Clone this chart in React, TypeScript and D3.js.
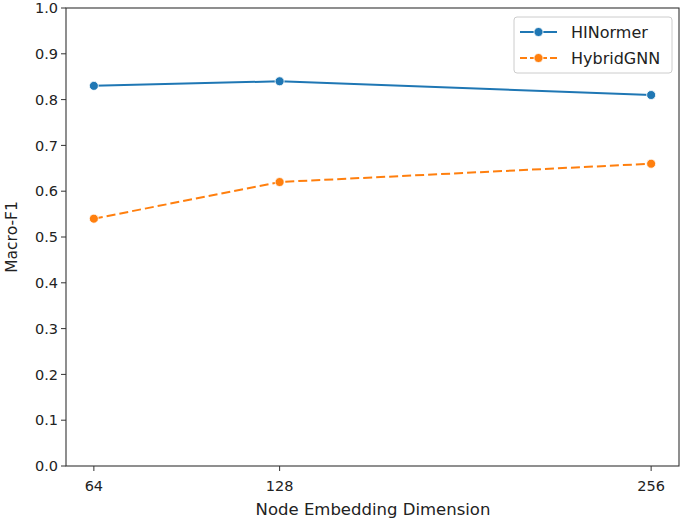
import * as d3 from "d3";

const dims = [64, 128, 256];
const hinormer = [0.83, 0.84, 0.81];
const hybridgnn = [0.54, 0.62, 0.66];
const yTicks = [0, 0.1, 0.2, 0.3, 0.4, 0.5, 0.6, 0.7, 0.8, 0.9, 1.0];

const series = [
  { name: "HINormer", values: hinormer, color: "#1f77b4", dash: "" },
  { name: "HybridGNN", values: hybridgnn, color: "#ff7f0e", dash: "9,4" },
];

const W = 685;
const H = 522;
const m = { left: 66, right: 679, top: 8, bottom: 466 };
const font = "DejaVu Sans, sans-serif";

export default function App() {
  const pad = (256 - 64) * 0.05;
  const x = d3.scaleLinear().domain([64 - pad, 256 + pad]).range([m.left, m.right]);
  const y = d3.scaleLinear().domain([0, 1]).range([m.bottom, m.top]);

  const line = d3
    .line<number>()
    .x((_, i) => x(dims[i]))
    .y((d) => y(d));

  return (
    <svg
      width={W}
      height={H}
      style={{ position: "absolute", left: 0, top: 0 }}
      fontFamily={font}
    >
      <rect width={W} height={H} fill="#fff" />
      {/* y ticks */}
      {yTicks.map((t) => (
        <g key={t} transform={`translate(0,${y(t)})`}>
          <line x1={m.left - 5} x2={m.left} stroke="#333" strokeWidth={1} />
          <text x={m.left - 8} dy="0.36em" textAnchor="end" fontSize={14.5} fill="#222">
            {t.toFixed(1)}
          </text>
        </g>
      ))}
      {/* x ticks */}
      {dims.map((d) => (
        <g key={d} transform={`translate(${x(d)},0)`}>
          <line y1={m.bottom} y2={m.bottom + 5} stroke="#333" strokeWidth={1} />
          <text y={m.bottom + 25} textAnchor="middle" fontSize={14.5} fill="#222">
            {d}
          </text>
        </g>
      ))}
      <text x={373} y={515} textAnchor="middle" fontSize={16.5} fill="#222">
        Node Embedding Dimension
      </text>
      <text
        transform={`translate(17,${(m.top + m.bottom) / 2}) rotate(-90)`}
        textAnchor="middle"
        fontSize={15.5}
        fill="#222"
      >
        Macro-F1
      </text>
      {/* lines */}
      {series.map((s) => (
        <g key={s.name}>
          <path
            d={line(s.values) ?? ""}
            fill="none"
            stroke={s.color}
            strokeWidth={2}
            strokeDasharray={s.dash}
          />
          {s.values.map((v, i) => (
            <circle
              key={i}
              cx={x(dims[i])}
              cy={y(v)}
              r={4.5}
              fill={s.color}
              stroke="#fff"
              strokeWidth={0.8}
            />
          ))}
        </g>
      ))}
      {/* frame */}
      <rect
        x={m.left}
        y={m.top}
        width={m.right - m.left}
        height={m.bottom - m.top}
        fill="none"
        stroke="#333"
        strokeWidth={1.1}
      />
      {/* legend */}
      <rect x={514} y={17} width={158} height={56} rx={3} fill="#fff" fillOpacity={0.8} stroke="#ccc" />
      {series.map((s, i) => {
        const ly = 32 + i * 26;
        return (
          <g key={s.name}>
            <line x1={520} x2={557} y1={ly} y2={ly} stroke={s.color} strokeWidth={2} strokeDasharray={s.dash ? "7,3" : ""} />
            <circle cx={538.5} cy={ly} r={4.5} fill={s.color} stroke="#fff" strokeWidth={0.8} />
            <text x={571} y={ly} dy="0.36em" fontSize={16} fill="#222">
              {s.name}
            </text>
          </g>
        );
      })}
    </svg>
  );
}
